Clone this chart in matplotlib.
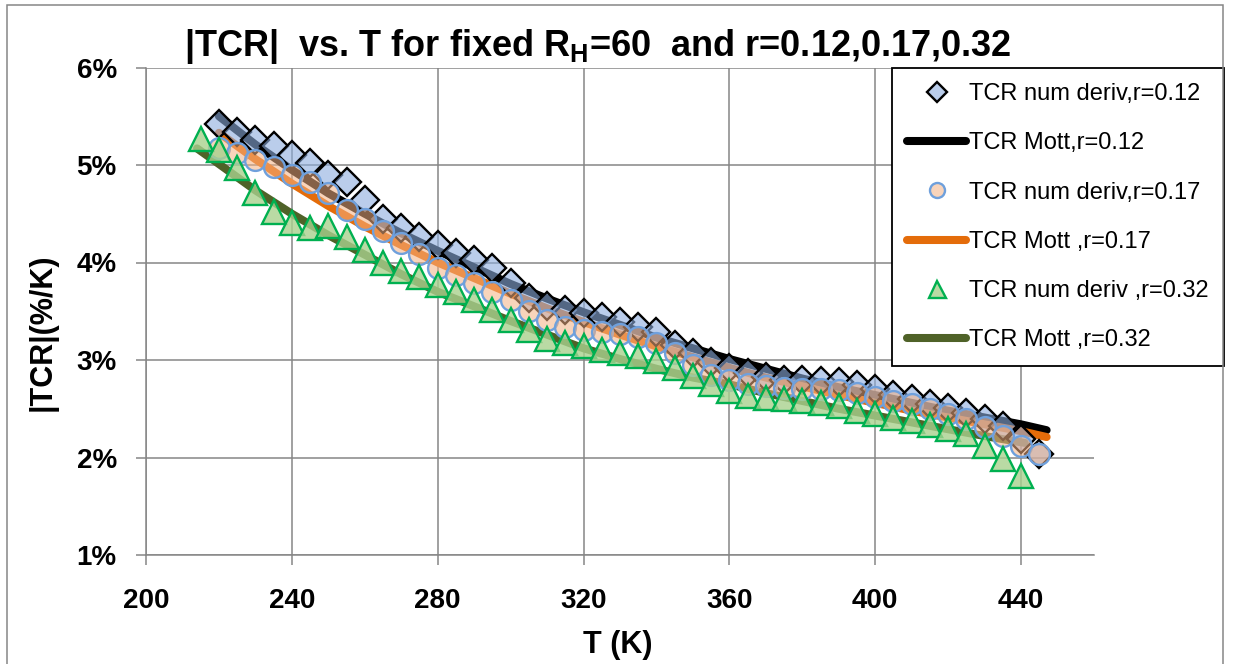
import matplotlib
matplotlib.use("Agg")
import matplotlib.pyplot as plt
from matplotlib.colors import to_rgba
from matplotlib.patches import Rectangle
from matplotlib.ticker import FuncFormatter

plt.rcParams['font.family'] = ['Liberation Sans', 'DejaVu Sans']
plt.rcParams['mathtext.fontset'] = 'custom'
plt.rcParams['mathtext.rm'] = 'Liberation Sans'
plt.rcParams['mathtext.bf'] = 'Liberation Sans:bold'

# temperatures (K) of the numerical-derivative points
T_num = [220, 225, 230, 235, 240, 245, 250, 255, 260, 265, 270, 275, 280, 285, 290, 295,
         300, 305, 310, 315, 320, 325, 330, 335, 340, 345, 350, 355, 360, 365, 370, 375,
         380, 385, 390, 395, 400, 405, 410, 415, 420, 425, 430, 435, 440, 445]
T_num32 = [215, 220, 225, 230, 235, 240, 245, 250, 255, 260, 265, 270, 275, 280, 285, 290,
           295, 300, 305, 310, 315, 320, 325, 330, 335, 340, 345, 350, 355, 360, 365, 370,
           375, 380, 385, 390, 395, 400, 405, 410, 415, 420, 425, 430, 435, 440]

# |TCR| in %/K
num_012 = [5.42, 5.34, 5.26, 5.19, 5.10, 5.02, 4.90, 4.83, 4.64, 4.45, 4.35, 4.26, 4.18, 4.10,
           4.03, 3.94, 3.79, 3.64, 3.55, 3.51, 3.48, 3.44, 3.39, 3.34, 3.29, 3.15, 3.07, 2.98,
           2.92, 2.87, 2.83, 2.80, 2.79, 2.78, 2.77, 2.74, 2.70, 2.64, 2.60, 2.55, 2.51, 2.46,
           2.40, 2.32, 2.19, 2.04]
num_017 = [5.17, 5.12, 5.05, 4.98, 4.90, 4.83, 4.71, 4.54, 4.45, 4.32, 4.20, 4.09, 3.94, 3.87,
           3.79, 3.70, 3.62, 3.50, 3.41, 3.34, 3.31, 3.29, 3.27, 3.24, 3.17, 3.07, 2.95, 2.85,
           2.79, 2.75, 2.73, 2.71, 2.70, 2.70, 2.69, 2.66, 2.62, 2.58, 2.55, 2.50, 2.45, 2.39,
           2.31, 2.22, 2.12, 2.04]
num_032 = [5.27, 5.15, 4.97, 4.71, 4.52, 4.40, 4.35, 4.37, 4.26, 4.13, 3.99, 3.91, 3.85, 3.77,
           3.70, 3.62, 3.51, 3.41, 3.31, 3.22, 3.17, 3.14, 3.10, 3.07, 3.04, 2.99, 2.92, 2.84,
           2.75, 2.68, 2.63, 2.61, 2.60, 2.58, 2.56, 2.53, 2.48, 2.45, 2.41, 2.37, 2.33, 2.29,
           2.24, 2.12, 1.98, 1.81]

T_mott = [220, 230, 240, 250, 260, 270, 280, 290, 300, 310, 320, 330, 340, 350, 360, 370,
          380, 390, 400, 410, 420, 430, 440, 447]
mott_012 = [5.50, 5.21, 4.95, 4.71, 4.50, 4.30, 4.12, 3.95, 3.78, 3.63, 3.49, 3.36, 3.23, 3.12,
            3.01, 2.91, 2.81, 2.72, 2.64, 2.56, 2.48, 2.41, 2.34, 2.28]
mott_017 = [5.33, 5.06, 4.81, 4.58, 4.37, 4.18, 4.00, 3.84, 3.68, 3.53, 3.39, 3.26, 3.14, 3.03,
            2.92, 2.82, 2.73, 2.64, 2.56, 2.48, 2.41, 2.34, 2.27, 2.21]
T_mott32 = [214, 220, 230, 240, 250, 260, 270, 280, 290, 300, 310, 320, 330, 340, 350, 360,
            370, 380, 390, 400, 410, 420, 430, 441]
mott_032 = [5.17, 5.01, 4.74, 4.50, 4.28, 4.08, 3.88, 3.70, 3.55, 3.40, 3.26, 3.12, 3.01, 2.91,
            2.82, 2.75, 2.66, 2.58, 2.50, 2.43, 2.36, 2.29, 2.22, 2.15]

x_ticks = [200, 240, 280, 320, 360, 400, 440]
y_ticks = [1, 2, 3, 4, 5, 6]

W, H = 1235, 664
fig = plt.figure(figsize=(W / 100, H / 100), dpi=100)
ax = fig.add_axes([146 / W, 1 - 555 / H, (1094 - 146) / W, (555 - 67.5) / H])

grey = '#868686'
lw_line = 5.8
ax.plot(T_mott, mott_012, color='black', lw=lw_line, solid_capstyle='round', label='TCR Mott,r=0.12', zorder=3)
ax.plot(T_mott, mott_017, color='#E46C0A', lw=lw_line, solid_capstyle='round', label='TCR Mott ,r=0.17', zorder=3)
ax.plot(T_mott32, mott_032, color='#4F6228', lw=lw_line, solid_capstyle='round', label='TCR Mott ,r=0.32', zorder=3)

ax.plot(T_num, num_012, ls='none', marker='D', ms=14.5,
        mfc=to_rgba('#8CADDE', 0.6), mec='black', mew=1.7,
        label='TCR num deriv,r=0.12', zorder=4)
ax.plot(T_num, num_017, ls='none', marker='o', ms=15,
        mfc=to_rgba('#F4B183', 0.55), mec='#6FA0DC', mew=1.7,
        label='TCR num deriv,r=0.17', zorder=5)
ax.plot(T_num32, num_032, ls='none', marker='^', ms=17,
        mfc=to_rgba('#A9D18E', 0.8), mec='#00B050', mew=1.7,
        label='TCR num deriv ,r=0.32', zorder=6)

ax.set_xlim(200, 460)
ax.set_ylim(1, 6)
ax.set_xticks(x_ticks)
ax.set_yticks(y_ticks)
ax.yaxis.set_major_formatter(FuncFormatter(lambda v, p: f"{int(v)}%"))
ax.grid(True, color=grey, lw=1.1)
ax.set_axisbelow(True)
for s in ['top', 'right']:
    ax.spines[s].set_visible(False)
for s in ['left', 'bottom']:
    ax.spines[s].set_color(grey)
    ax.spines[s].set_linewidth(1.1)
ax.tick_params(axis='both', direction='out', length=7, width=1.1, color=grey,
               labelsize=20)
ax.tick_params(axis='x', pad=17)
ax.tick_params(axis='y', pad=14)
for lab in ax.get_xticklabels() + ax.get_yticklabels():
    lab.set_fontweight('bold')

ax.set_xlabel('T (K)', fontsize=22, fontweight='bold')
ax.set_ylabel('|TCR|(%/K)', fontsize=22, fontweight='bold')
ax.yaxis.set_label_coords(43 / W, 0.5, transform=fig.transFigure)
ax.xaxis.set_label_coords(0.5, 1 - 645 / H, transform=fig.transFigure)
ax.xaxis.label.set_va('center')
ax.yaxis.label.set_va('center')

fig.text(598 / W, 1 - 46 / H,
         r'|TCR|  vs. T for fixed R$_\mathbf{H}$=60  and r=0.12,0.17,0.32',
         ha='center', va='center', fontsize=26, fontweight='bold')

# legend order as in the chart
handles, labels = ax.get_legend_handles_labels()
order = ['TCR num deriv,r=0.12', 'TCR Mott,r=0.12', 'TCR num deriv,r=0.17',
         'TCR Mott ,r=0.17', 'TCR num deriv ,r=0.32', 'TCR Mott ,r=0.32']
hmap = dict(zip(labels, handles))
leg = ax.legend([hmap[k] for k in order], order, loc='upper left',
                bbox_to_anchor=(892 / W, 1 - 68 / H), bbox_transform=fig.transFigure,
                borderaxespad=0, fontsize=17, frameon=True, fancybox=False,
                framealpha=1, edgecolor='black', markerscale=0.72,
                handlelength=2.5, handletextpad=0.1, labelspacing=1.15,
                borderpad=0.65)
leg.get_frame().set_linewidth(1.3)
leg.set_zorder(10)

# chart border
fig.patches.append(Rectangle((7 / W, -0.05), (1223 - 7) / W, 1.05 - 5 / H,
                             transform=fig.transFigure, fill=False,
                             edgecolor=grey, lw=1.1))

fig.savefig('out.png', dpi=100)
